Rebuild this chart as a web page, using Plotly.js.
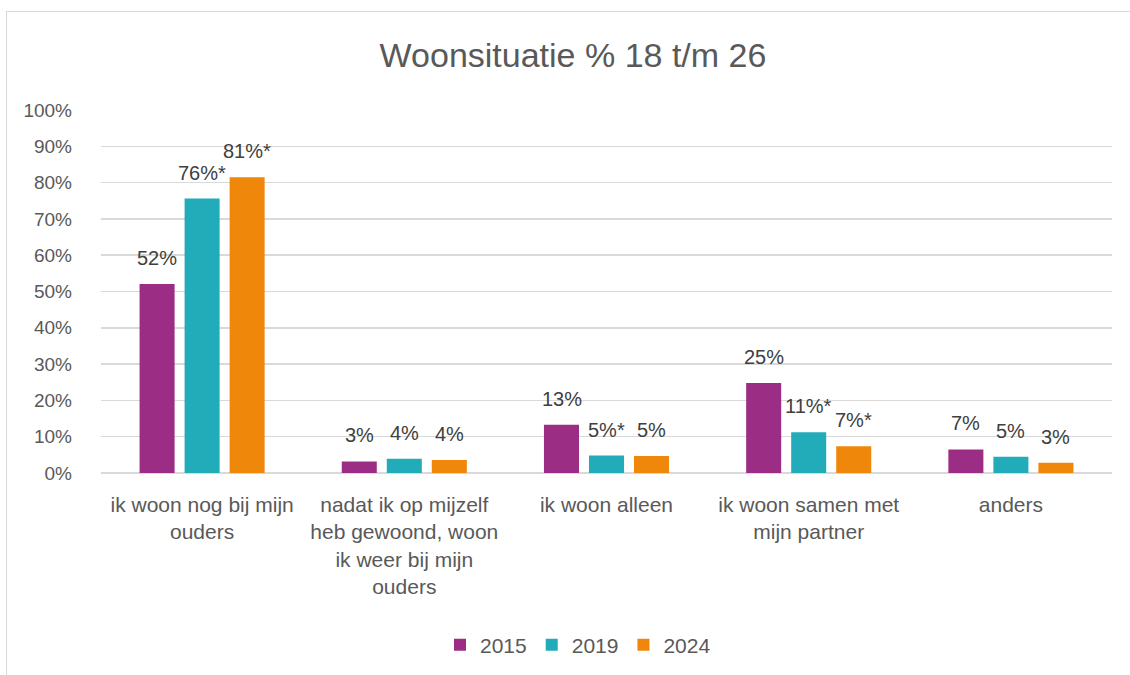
<!DOCTYPE html>
<html>
<head>
<meta charset="utf-8">
<script src="https://cdn.plot.ly/plotly-3.0.1.min.js"></script>
<style>
  html, body { margin: 0; padding: 0; background: #ffffff; }
  #wrap { position: relative; width: 1130px; height: 675px; overflow: hidden; }
  #chart { position: absolute; left: 0; top: 0; width: 1130px; height: 675px; }
  #frame { position: absolute; left: 6px; top: 11px; width: 1200px; height: 800px;
           border: 1.5px solid #d9d9d9; pointer-events: none; box-sizing: border-box; }
</style>
</head>
<body>
<div id="wrap">
  <div id="chart"></div>
  <div id="frame"></div>
</div>
<script>
const categories = [
  "ik woon nog bij mijn<br>ouders",
  "nadat ik op mijzelf<br>heb gewoond, woon<br>ik weer bij mijn<br>ouders",
  "ik woon alleen",
  "ik woon samen met<br>mijn partner",
  "anders"
];
const seriesNames = ["2015", "2019", "2024"];
const values2015 = [52.1, 3.2, 13.3, 24.8, 6.5];
const values2019 = [75.6, 3.9, 4.8, 11.2, 4.5];
const values2024 = [81.5, 3.6, 4.7, 7.4, 2.8];
const labels2015 = ["52%", "3%", "13%", "25%", "7%"];
const labels2019 = ["76%*", "4%", "5%*", "11%*", "5%"];
const labels2024 = ["81%*", "4%", "5%", "7%*", "3%"];
const colors = ["#9b2d84", "#22abb8", "#ef870b"];
const yTickVals = [0, 10, 20, 30, 40, 50, 60, 70, 80, 90, 100];
const yTickText = ["0%", "10%", "20%", "30%", "40%", "50%", "60%", "70%", "80%", "90%", "100%"];

const allValues = [values2015, values2019, values2024];
const allLabels = [labels2015, labels2019, labels2024];

const FONT = "Liberation Sans, Arial, sans-serif";
const GREY = "#595959";

const traces = seriesNames.map((name, i) => ({
  type: "bar",
  name: name,
  x: categories,
  y: allValues[i],
  marker: { color: colors[i] },
  hoverinfo: "skip"
}));

const slot = 45;
const annotations = [];
allValues.forEach((vals, i) => {
  vals.forEach((v, j) => {
    annotations.push({
      x: categories[j], y: v, xref: "x", yref: "y",
      text: allLabels[i][j], showarrow: false,
      xshift: (i - 1) * slot, yshift: 26, yanchor: "middle", xanchor: "center",
      font: { family: FONT, size: 20, color: "#404040" }
    });
  });
});

const layout = {
  width: 1130, height: 675,
  margin: { l: 101, r: 18, t: 110, b: 202 },
  paper_bgcolor: "rgba(0,0,0,0)", plot_bgcolor: "#ffffff",
  font: { family: FONT, color: GREY, size: 20 },
  title: { text: "Woonsituatie % 18 t/m 26", x: 573/1130, xanchor: "center", xref: "container",
           y: 1 - 55/675, yanchor: "middle", yref: "container",
           font: { family: FONT, size: 34, color: GREY } },
  barmode: "group", bargap: 0.332, bargroupgap: 0.222,
  showlegend: true,
  legend: { orientation: "h", xref: "container", x: 578/1130, xanchor: "center",
            yref: "container", y: 1 - 645/675, yanchor: "middle",
            font: { family: FONT, size: 21, color: GREY }, traceorder: "normal" },
  xaxis: { type: "category", showgrid: false, showline: false, zeroline: false,
           tickfont: { family: FONT, size: 21, color: GREY }, ticks: "", ticklabelstandoff: 17,
           tickangle: 0, fixedrange: true },
  yaxis: { range: [0, 100], tickmode: "array", tickvals: yTickVals, ticktext: yTickText,
           showgrid: true, gridcolor: "#d9d9d9", gridwidth: 1.5, zeroline: true,
           zerolinecolor: "#d9d9d9", zerolinewidth: 1.5, showline: false, ticks: "",
           ticklabelstandoff: 28, tickfont: { family: FONT, size: 19, color: GREY },
           fixedrange: true },
  annotations: annotations
};

Plotly.newPlot("chart", traces, layout, { displayModeBar: false, staticPlot: true });
</script>
</body>
</html>
